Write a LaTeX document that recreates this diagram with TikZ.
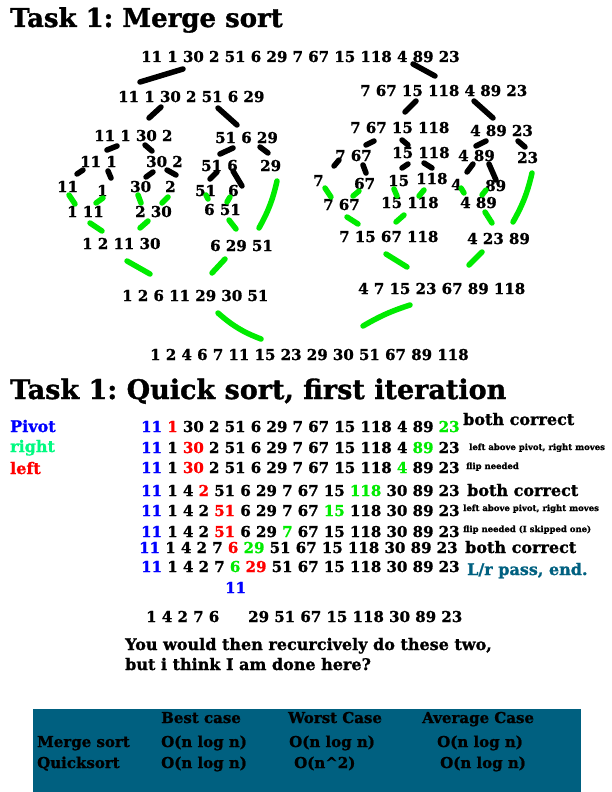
\documentclass[tikz,border=0pt]{standalone}
\usepackage{fontspec}
\setmainfont{DejaVu Serif}[BoldFeatures={FakeBold=1.2}]
\usepackage{xcolor}
\definecolor{pivblue}{RGB}{0,0,255}
\definecolor{leftred}{RGB}{255,0,0}
\definecolor{rightgreen}{RGB}{0,235,0}
\definecolor{mintgreen}{RGB}{0,250,128}
\definecolor{tableteal}{RGB}{0,96,128}
\newcommand{\piv}[1]{\textcolor{pivblue}{#1}}
\newcommand{\lef}[1]{\textcolor{leftred}{#1}}
\newcommand{\rig}[1]{\textcolor{rightgreen}{#1}}
\frenchspacing

\begin{document}
\begin{tikzpicture}[x=1pt,y=-1pt,line cap=round,
  num/.style={anchor=base west,inner sep=0pt,font=\fontsize{15}{18}\selectfont\bfseries},
  ttl/.style={anchor=base west,inner sep=0pt,font=\fontsize{26}{30}\selectfont\bfseries},
  big/.style={anchor=base west,inner sep=0pt,font=\fontsize{16}{19}\selectfont\bfseries},
  note/.style={anchor=base west,inner sep=0pt,font=\fontsize{8.5}{10}\selectfont\bfseries},
  brush/.style={line width=5.5pt},
  gbrush/.style={line width=5.5pt,rightgreen}]
  \useasboundingbox (0,0) rectangle (612,792);

  % merge sort
  \node[ttl] (t1) at (10,27) {Task 1: Merge sort};
  \node[num] (m0) at (141,62) {11 1 30 2 51 6 29 7 67 15 118 4 89 23};
  \node[num] (l1) at (118,102) {11 1 30 2 51 6 29};
  \node[num] (r1) at (360,96) {7 67 15 118 4 89 23};
  \node[num] (l2a) at (94,141) {11 1 30 2};
  \node[num] (l2b) at (215,143) {51 6 29};
  \node[num] (r2a) at (350,133) {7 67 15 118};
  \node[num] (r2b) at (470,136) {4 89 23};
  \node[num] (l3a) at (80,167) {11 1};
  \node[num] (l3b) at (146,167) {30 2};
  \node[num] (l3c) at (201,171) {51 6};
  \node[num] (l3d) at (260,171) {29};
  \node[num] (r3a) at (335,161) {7 67};
  \node[num] (r3b) at (392,158) {15 118};
  \node[num] (r3c) at (458,161) {4 89};
  \node[num] (r3d) at (517,163) {23};
  % single elements
  \node[num] (l4a) at (57,192) {11};
  \node[num] (l4b) at (97,196) {1};
  \node[num] (l4c) at (130,192) {30};
  \node[num] (l4d) at (165,192) {2};
  \node[num] (l4e) at (195,196) {51};
  \node[num] (l4f) at (228,196) {6};
  \node[num] (r4a) at (313,186) {7};
  \node[num] (r4b) at (354,189) {67};
  \node[num] (r4c) at (388,186) {15};
  \node[num] (r4d) at (416,184) {118};
  \node[num] (r4e) at (451,190) {4};
  \node[num] (r4f) at (485,191) {89};
  % merged back up
  \node[num] (l5a) at (67,217) {1 11};
  \node[num] (l5b) at (135,217) {2 30};
  \node[num] (l5c) at (204,215) {6 51};
  \node[num] (r5a) at (323,210) {7 67};
  \node[num] (r5b) at (381,208) {15 118};
  \node[num] (r5c) at (460,208) {4 89};
  \node[num] (l6a) at (82,249) {1 2 11 30};
  \node[num] (l6b) at (210,251) {6 29 51};
  \node[num] (r6a) at (339,242) {7 15 67 118};
  \node[num] (r6b) at (467,244) {4 23 89};
  \node[num] (l7) at (122,301) {1 2 6 11 29 30 51};
  \node[num] (r7) at (358,294) {4 7 15 23 67 89 118};
  \node[num] (m8) at (150,360) {1 2 4 6 7 11 15 23 29 30 51 67 89 118};

  % split strokes
  \foreach \xa/\ya/\xb/\yb in {140/82/183/69, 413/64/435/76,
      149/118/161/107, 218/108/237/125, 405/112/416/101, 474/101/493/118,
      107/150/117/146, 145/145/152/151, 220/154/233/148, 260/147/268/153,
      366/145/374/141, 402/140/408/145, 476/146/486/141, 518/141/525/147,
      77/174/83/170, 108/171/111/178, 146/177/153/172, 167/170/176/175,
      210/179/217/172, 233/171/242/186,
      334/166/339/160, 363/165/366/173, 402/168/408/164, 424/163/432/168,
      467/172/473/164, 489/164/496/180}
    \draw[brush] (\xa,\ya) -- (\xb,\yb);
  % merge strokes
  \foreach \xa/\ya/\xb/\yb in {69/195/75/204, 96/203/103/198, 138/195/141/203,
      162/203/168/197, 206/195/208/199, 227/202/230/197,
      325/188/331/197, 353/196/359/191, 394/189/397/196, 419/196/424/190,
      461/188/464/193, 482/195/486/190,
      90/223/102/231, 140/228/148/221, 229/220/236/229,
      347/217/358/224, 396/222/404/215, 485/212/492/223,
      127/261/150/274, 212/273/225/259, 386/254/407/267, 469/265/482/252}
    \draw[gbrush] (\xa,\ya) -- (\xb,\yb);
  \draw[gbrush] (259,228) to[bend right=8] (277,181);
  \draw[gbrush] (513,222) to[bend right=8] (532,173);
  \draw[gbrush] (218,313) to[bend right=10] (261,339);
  \draw[gbrush] (363,326) to[bend left=6] (410,305);

  % quick sort
  \node[ttl,font=\fontsize{27}{31}\selectfont\bfseries] (t2) at (10,399) {Task 1: Quick sort, first iteration};
  \node[big,pivblue] (kp) at (10,432) {Pivot};
  \node[big,mintgreen] (kr) at (10,452) {right};
  \node[big,leftred] (kl) at (10,474) {left};
  \node[num] (q1) at (141,432) {\piv{11} \lef{1} 30 2 51 6 29 7 67 15 118 4 89 \rig{23}};
  \node[num] (q2) at (141,453) {\piv{11} 1 \lef{30} 2 51 6 29 7 67 15 118 4 \rig{89} 23};
  \node[num] (q3) at (141,473) {\piv{11} 1 \lef{30} 2 51 6 29 7 67 15 118 \rig{4} 89 23};
  \node[num] (q4) at (141,496) {\piv{11} 1 4 \lef{2} 51 6 29 7 67 15 \rig{118} 30 89 23};
  \node[num] (q5) at (141,516) {\piv{11} 1 4 2 \lef{51} 6 29 7 67 \rig{15} 118 30 89 23};
  \node[num] (q6) at (141,537) {\piv{11} 1 4 2 \lef{51} 6 29 \rig{7} 67 15 118 30 89 23};
  \node[num] (q7) at (139,553) {\piv{11} 1 4 2 7 \lef{6} \rig{29} 51 67 15 118 30 89 23};
  \node[num] (q8) at (141,572) {\piv{11} 1 4 2 7 \rig{6} \lef{29} 51 67 15 118 30 89 23};
  \node[big] (n1) at (463,425) {both correct};
  \node[note] (n2) at (469,450) {left above pivot, right moves};
  \node[note] (n3) at (466,469) {flip needed};
  \node[big] (n4) at (467,496) {both correct};
  \node[note] (n5) at (463,511) {left above pivot, right moves};
  \node[note] (n6) at (463,532) {flip needed (I skipped one)};
  \node[big] (n7) at (465,553) {both correct};
  \node[big,tableteal] (n8) at (467,575) {L/r pass, end.};
  \node[num,pivblue] (qp) at (225,593) {11};
  \node[num] (qa) at (146,622) {1 4 2 7 6};
  \node[num] (qb) at (248,622) {29 51 67 15 118 30 89 23};
  \node[big] (c1) at (125,650) {You would then recurcively do these two,};
  \node[big] (c2) at (125,670) {but i think I am done here?};

  % complexity table
  \fill[tableteal] (33,709) rectangle (581,792);
  \node[num] (h1) at (161,723) {Best case};
  \node[num] (h2) at (288,723) {Worst Case};
  \node[num] (h3) at (422,723) {Average Case};
  \node[num] (a0) at (37,747) {Merge sort};
  \node[num] (a1) at (161,747) {O(n log n)};
  \node[num] (a2) at (289,747) {O(n log n)};
  \node[num] (a3) at (437,747) {O(n log n)};
  \node[num] (b0) at (37,768) {Quicksort};
  \node[num] (b1) at (161,768) {O(n log n)};
  \node[num] (b2) at (294,768) {O(n\textasciicircum 2)};
  \node[num] (b3) at (440,768) {O(n log n)};
\end{tikzpicture}
\end{document}
